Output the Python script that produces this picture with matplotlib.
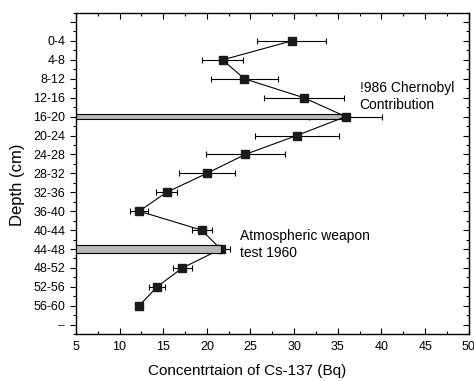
import matplotlib
matplotlib.use("Agg")
import matplotlib.pyplot as plt
from matplotlib.ticker import MultipleLocator, FixedLocator

plt.rcParams['font.family'] = ['Liberation Sans', 'DejaVu Sans']

depths = ['0-4', '4-8', '8-12', '12-16', '16-20', '20-24', '24-28', '28-32',
          '32-36', '36-40', '40-44', '44-48', '48-52', '52-56', '56-60']
conc = [29.7, 21.8, 24.3, 31.1, 35.9, 30.3, 24.4, 20.0, 15.4, 12.25, 19.4, 21.6, 17.2, 14.3, 12.25]
err = [4.0, 2.4, 3.8, 4.6, 4.2, 4.8, 4.5, 3.2, 1.2, 1.05, 1.15, 1.0, 1.1, 0.95, 0.0]

bar_depths = ['16-20', '44-48']
bar_values = [35.9, 21.6]
bar_heights = [0.28, 0.42]

annotations = ['!986 Chernobyl\nContribution', 'Atmospheric weapon\ntest 1960']
ann_pos = [(37.5, 2.95), (23.8, 10.75)]

fig = plt.figure(figsize=(4.74, 3.81), dpi=100)
ax = fig.add_axes([0.160, 0.123, 0.829, 0.844])

ypos = list(range(len(depths)))

ax.errorbar(conc, ypos, xerr=err, fmt='none', ecolor='black', elinewidth=0.8,
            capsize=2.5, capthick=0.8, zorder=2)
ax.plot(conc, ypos, color='black', linewidth=0.8, zorder=3)

for d, v, h in zip(bar_depths, bar_values, bar_heights):
    i = depths.index(d)
    zo = 2.5 if d == '16-20' else 5
    ax.barh(i, v - 5, left=5, height=h, color='#b8b8b8', edgecolor='black',
            linewidth=0.8, zorder=zo)

ax.plot(conc, ypos, linestyle='none', marker='s', markersize=6,
        color='#1a1a1a', zorder=4)

for t, (x, y) in zip(annotations, ann_pos):
    ax.text(x, y, t, fontsize=10, ha='left', va='center', linespacing=1.25)

ax.set_xlim(5, 50)
ax.set_ylim(15.5, -1.5)
ax.xaxis.set_major_locator(MultipleLocator(5))
ax.xaxis.set_minor_locator(MultipleLocator(2.5))

ticks = list(range(-1, len(depths) + 1))
labels = [''] + depths + ['--']
minor_y = [t + 0.5 for t in range(-2, len(depths) + 1)]
ax.yaxis.set_major_locator(FixedLocator(ticks))
ax.set_yticklabels(labels)
ax.yaxis.set_minor_locator(FixedLocator(minor_y))

ax.tick_params(axis='both', which='both', labelsize=9, width=0.8, colors='black')
ax.tick_params(axis='both', which='major', length=4)
ax.tick_params(axis='both', which='minor', length=2.5)
ax.tick_params(axis='x', which='both', direction='in', top=True, pad=5)
ax.tick_params(axis='y', which='both', direction='out', right=False)
for sp in ax.spines.values():
    sp.set_linewidth(1.0)

axr = ax.secondary_yaxis('right')
axr.yaxis.set_major_locator(FixedLocator(ticks))
axr.yaxis.set_minor_locator(FixedLocator(minor_y))
axr.tick_params(which='both', direction='in', labelright=False, width=0.8)
axr.tick_params(which='major', length=4)
axr.tick_params(which='minor', length=2.5)

ax.set_xlabel('Concentrtaion of Cs-137 (Bq)', fontsize=11)
ax.xaxis.set_label_coords(0.435, -0.093)
ax.set_ylabel('Depth (cm)', fontsize=12)
ax.yaxis.set_label_coords(-0.13, 0.464)

fig.savefig('out.png', dpi=100)
